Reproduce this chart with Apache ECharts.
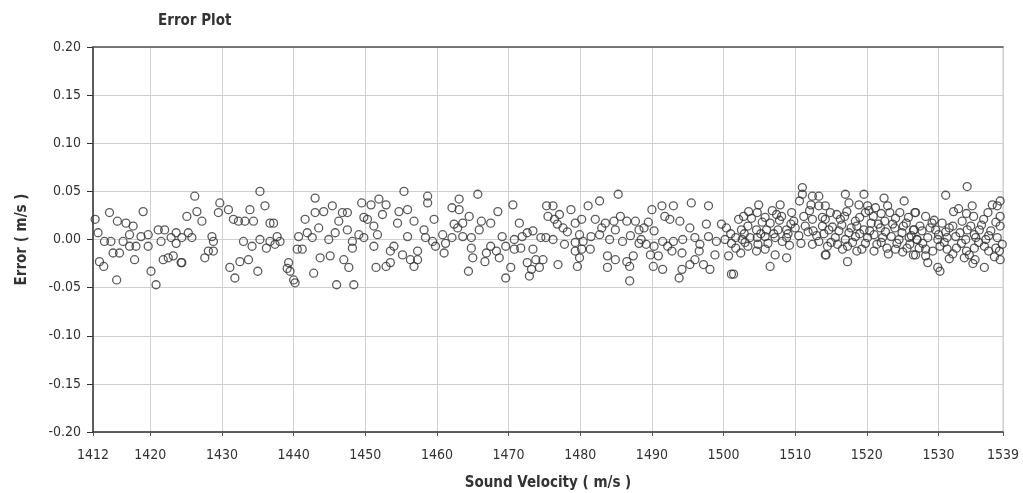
<!DOCTYPE html>
<html>
<head>
<meta charset="utf-8">
<script src="https://cdn.jsdelivr.net/npm/echarts@6/dist/echarts.min.js"></script>
<style>html,body{margin:0;padding:0;background:#fff}#c{width:1023px;height:493px}</style>
</head>
<body>
<div id="c"></div>
<script>
var xTicks = [1412,1420,1430,1440,1450,1460,1470,1480,1490,1500,1510,1520,1530,1539];

var velocity = [
1412.3,1412.7,1414.3,1415.4,1416.6,1417.6,1419.0,1413.6,1414.5,1416.2,1417.1,1417.1,1418.0,1418.7,1419.7,1419.7,1414.8,1415.7,1412.9,1413.5,1417.8,1415.3,1420.1,1420.8,1421.1,1422.0,1421.5,1422.9,1423.6,1423.6,1421.8,1422.5,1423.2,1424.3,
1426.2,1435.3,1425.1,1426.5,1427.2,1429.7,1429.5,1430.9,1431.6,1432.3,1433.2,1433.9,1434.4,1436.0,1436.7,1424.4,1425.3,1425.8,1428.6,1428.8,1428.1,1427.6,1428.8,1433.0,1434.2,1435.3,1436.7,1436.2,1433.7,1432.5,1431.1,1431.8,1435.0,1424.4,
1437.2,1437.7,1437.4,1438.1,1443.0,1441.6,1443.0,1444.2,1445.4,1446.8,1447.5,1446.3,1447.5,1440.7,1441.9,1442.6,1443.5,1444.9,1445.8,1440.5,1441.2,1443.7,1445.1,1448.2,1448.2,1449.1,1449.8,1447.0,1447.7,1439.3,1439.1,1439.5,1440.0,1440.2,1442.8,1446.0,1448.4,1449.5,1449.8,
1455.4,1458.7,1458.7,1450.8,1451.9,1452.9,1452.4,1454.7,1455.9,1454.5,1456.8,1459.6,1462.1,1462.4,1450.3,1451.2,1451.7,1451.2,1455.9,1458.2,1458.4,1459.4,1459.8,1460.8,1461.2,1462.1,1461.0,1454.0,1453.5,1455.2,1456.3,1457.3,1457.3,1456.8,1451.5,1452.9,1453.5,
1465.7,1463.1,1463.1,1464.5,1463.6,1462.9,1466.2,1467.5,1468.5,1470.6,1471.5,1473.4,1475.3,1475.5,1463.6,1464.8,1465.9,1469.1,1470.8,1471.9,1472.6,1474.5,1475.2,1464.8,1465.0,1466.9,1466.7,1467.5,1468.3,1468.7,1469.6,1470.8,1471.7,1473.4,1472.6,1473.2,1473.8,1474.8,1474.3,1472.9,1464.4,1470.3,1469.6,
1485.3,1482.7,1481.1,1478.7,1476.2,1477.1,1476.4,1477.6,1479.3,1480.2,1482.1,1483.5,1484.7,1485.6,1486.5,1487.7,1488.2,1484.9,1476.2,1477.8,1479.9,1480.4,1481.5,1482.7,1484.1,1485.9,1488.2,1479.3,1479.3,1480.2,1481.4,1479.9,1479.6,1476.9,1483.8,1484.9,1483.8,1486.5,1487.4,1486.9,1486.9,
1490.0,1491.4,1493.0,1495.5,1497.9,1491.8,1492.5,1493.9,1495.3,1497.6,1499.7,1500.4,1488.9,1490.3,1488.5,1489.2,1490.3,1491.5,1492.2,1493.0,1494.3,1496.0,1496.7,1497.9,1499.0,1500.2,1501.1,1489.8,1490.9,1492.8,1494.2,1496.6,1498.8,1500.7,1490.2,1491.5,1494.2,1495.3,1496.0,1497.2,1498.1,1493.8,1501.1,
1511.0,1511.0,1512.4,1513.3,1512.2,1513.3,1507.9,1504.9,1503.5,1504.7,1502.1,1502.8,1505.8,1506.5,1507.4,1508.1,1509.5,1509.8,1511.2,1512.4,1513.8,1513.8,1502.5,1503.4,1504.6,1506.0,1507.6,1508.8,1510.0,1511.4,1512.5,1501.7,1502.6,1503.7,1504.7,1505.8,1507.2,1508.8,1501.7,1502.4,1503.4,1504.8,1504.6,1505.8,1508.2,1507.2,1508.8,1506.5,1501.4,1512.4,1513.3,1514.2,
1517.0,1519.6,1522.4,1525.2,1517.5,1518.9,1520.1,1521.2,1522.9,1514.2,1514.9,1515.8,1517.2,1519.8,1520.9,1523.2,1524.6,1526.7,1514.2,1516.3,1518.4,1518.6,1520.6,1522.5,1523.6,1525.5,1514.7,1516.1,1517.5,1519.6,1521.9,1524.9,1526.5,1515.6,1517.0,1518.4,1520.1,1521.0,1522.2,1523.4,1524.5,1525.9,1527.0,1514.5,1515.9,1517.3,1518.6,1519.3,1521.4,1522.8,1524.0,1525.6,1526.5,1514.3,1517.3,
1534.0,1531.0,1534.7,1537.5,1538.6,1538.2,1532.1,1532.8,1526.8,1528.2,1534.9,1536.3,1538.6,1529.1,1530.5,1533.3,1526.6,1527.7,1529.6,1531.5,1534.5,1535.7,1537.3,1538.6,1527.0,1528.5,1529.9,1531.2,1532.4,1533.8,1535.2,1536.6,1538.2,1527.3,1528.2,1530.2,1531.2,1532.5,1533.9,1535.0,1536.4,1538.0,1526.8,1528.2,1528.5,1529.9,1530.2,1533.6,1535.1,1536.4,1538.5,1538.6
];

var error = [
0.021,0.007,0.028,0.019,0.017,0.014,0.029,-0.002,-0.002,-0.002,0.005,-0.007,-0.007,0.003,0.005,-0.007,-0.014,-0.014,-0.023,-0.028,-0.021,-0.042,-0.033,-0.047,0.010,0.010,-0.002,0.002,0.007,-0.004,-0.021,-0.019,-0.017,-0.024,
0.045,0.050,0.024,0.029,0.019,0.038,0.028,0.031,0.021,0.019,0.019,0.031,0.019,0.035,0.017,0.002,0.007,0.002,0.003,-0.002,-0.012,-0.019,-0.012,-0.002,-0.007,0.000,-0.002,-0.009,-0.021,-0.023,-0.029,-0.040,-0.033,-0.024,
0.017,0.003,-0.005,-0.002,0.043,0.021,0.028,0.029,0.035,0.028,0.028,0.019,0.010,0.003,0.007,0.002,0.012,0.000,0.007,-0.010,-0.010,-0.019,-0.017,-0.002,-0.009,0.005,0.002,-0.021,-0.029,-0.024,-0.030,-0.033,-0.042,-0.045,-0.035,-0.047,-0.047,0.038,0.023,
0.050,0.045,0.038,0.036,0.042,0.036,0.026,0.029,0.031,0.017,0.019,0.021,0.033,0.016,0.021,0.014,0.005,-0.007,0.003,0.010,0.002,-0.002,-0.007,0.005,-0.004,0.002,-0.014,-0.007,-0.012,-0.016,-0.021,-0.012,-0.021,-0.028,-0.029,-0.028,-0.024,
0.047,0.042,0.031,0.024,0.017,0.012,0.019,0.017,0.029,0.036,0.017,0.009,0.035,0.024,0.003,0.002,0.010,0.003,0.000,0.003,0.007,0.002,0.002,-0.009,-0.019,-0.014,-0.023,-0.007,-0.012,-0.019,-0.007,-0.010,-0.009,-0.010,-0.024,-0.031,-0.021,-0.021,-0.029,-0.038,-0.033,-0.029,-0.040,
0.047,0.040,0.035,0.031,0.035,0.026,0.021,0.012,0.017,0.021,0.021,0.017,0.019,0.024,0.019,0.019,0.010,0.010,0.000,-0.005,0.005,-0.002,0.003,0.005,0.000,-0.002,-0.004,-0.003,-0.012,-0.010,-0.010,-0.019,-0.028,-0.026,-0.017,-0.021,-0.029,-0.023,-0.017,-0.028,-0.043,
0.031,0.035,0.035,0.038,0.035,0.024,0.021,0.019,0.012,0.016,0.016,0.012,0.012,0.009,0.000,-0.005,-0.007,-0.002,-0.007,-0.002,0.000,0.002,-0.005,0.003,-0.002,0.000,-0.004,-0.016,-0.017,-0.012,-0.014,-0.012,-0.016,-0.017,-0.028,-0.031,-0.031,-0.026,-0.021,-0.026,-0.031,-0.040,-0.036,
0.054,0.047,0.045,0.045,0.036,0.035,0.036,0.036,0.029,0.028,0.021,0.024,0.023,0.017,0.026,0.024,0.028,0.019,0.024,0.021,0.023,0.014,0.010,0.014,0.010,0.010,0.010,0.010,0.012,0.014,0.009,0.002,0.000,0.002,0.002,0.003,0.002,0.002,-0.009,-0.014,-0.007,-0.005,-0.012,-0.010,-0.002,-0.016,-0.019,-0.028,-0.036,-0.005,-0.002,-0.016,
0.047,0.047,0.043,0.040,0.038,0.036,0.035,0.033,0.035,0.035,0.028,0.026,0.029,0.028,0.024,0.028,0.028,0.028,0.021,0.021,0.019,0.014,0.017,0.019,0.016,0.017,0.010,0.009,0.007,0.010,0.012,0.007,0.010,0.002,0.000,0.003,0.002,0.005,0.002,0.003,0.000,0.002,0.000,-0.007,-0.005,-0.007,-0.012,-0.010,-0.005,-0.009,-0.010,-0.009,-0.016,-0.016,-0.023,
0.055,0.046,0.035,0.036,0.040,0.035,0.029,0.032,0.028,0.024,0.024,0.021,0.024,0.017,0.017,0.019,0.010,0.009,0.010,0.012,0.014,0.010,0.009,0.014,0.000,0.002,0.000,0.002,0.003,0.000,0.002,0.000,0.002,-0.009,-0.010,-0.007,-0.010,-0.009,-0.012,-0.009,-0.007,-0.009,-0.016,-0.017,-0.024,-0.029,-0.033,-0.019,-0.021,-0.029,-0.012,-0.021
];

// extra overlapping points estimated in the dense bands
var velocityDense = [
1476.8,1478.2,1483.0,1487.0,1489.5,
1501.0,1503.0,1505.2,1506.2,1507.0,1509.0,1510.5,1511.8,1513.0,1514.0,1509.2,1510.8,1512.0,1510.6,1509.4,1507.8,1506.8,1505.4,1503.9,1502.9,
1515.2,1516.5,1517.8,1519.0,1520.4,1521.6,1522.6,1523.9,1525.1,1526.2,1515.0,1516.6,1518.0,1519.8,1521.0,1522.0,1523.0,1524.2,1525.0,1526.0,1516.9,1519.0,1520.3,1522.0,1524.0,1525.8,
1527.4,1528.8,1530.0,1531.0,1532.0,1533.0,1534.0,1535.0,1536.0,1537.0,1538.0,1527.8,1529.2,1530.8,1532.0,1533.2,1534.3,1535.6,1537.0,1538.9,1531.5,1534.8,1537.8,1529.4,1533.9,1536.9
];
var errorDense = [
0.016,0.008,0.012,0.004,0.018,
0.006,-0.003,0.006,-0.004,0.006,0.006,0.004,0.008,0.004,0.006,-0.006,-0.004,0.030,0.040,0.016,0.020,0.030,0.018,0.022,0.006,
0.013,0.015,0.012,0.006,0.009,0.016,0.008,0.012,0.014,0.004,-0.003,-0.010,-0.003,-0.004,-0.012,-0.003,-0.015,-0.004,-0.013,-0.005,0.024,0.023,0.030,0.027,0.022,0.023,
0.014,0.012,0.005,0.008,0.014,0.007,0.010,0.005,0.015,0.004,0.018,-0.004,-0.012,-0.003,-0.015,-0.004,-0.016,-0.003,-0.012,-0.005,-0.020,-0.025,-0.018,0.020,0.027,0.028
];

var points = velocity.map(function (v, i) { return [v, error[i]]; })
  .concat(velocityDense.map(function (v, i) { return [v, errorDense[i]]; }));

var font = "'Liberation Sans Narrow','DejaVu Sans Condensed','Liberation Sans',sans-serif";
var chart = echarts.init(document.getElementById('c'));
chart.setOption({
  animation: false,
  backgroundColor: '#ffffff',
  title: {
    text: 'Error Plot', left: 153, top: 9,
    textStyle: { fontFamily: font, fontSize: 15, fontWeight: 'bold', color: '#333' }
  },
  grid: { left: 93, right: 20, top: 47, bottom: 61, outerBoundsMode: 'none', containLabel: false,
    show: true, borderColor: '#c8c8c8', borderWidth: 1 },
  xAxis: [{
    type: 'value', min: 1412, max: 1539,
    name: 'Sound Velocity ( m/s )', nameLocation: 'middle', nameGap: 44,
    nameTextStyle: { fontFamily: font, fontSize: 15, fontWeight: 'bold', color: '#333' },
    axisLine: { show: true, onZero: false, lineStyle: { color: '#333', width: 1.5 } },
    axisTick: { show: true, length: 4, customValues: xTicks, lineStyle: { color: '#555' } },
    axisLabel: { customValues: xTicks, fontFamily: font, fontSize: 14, color: '#333', margin: 16,
      formatter: function (v) { return String(Math.round(v)); } },
    splitLine: { show: true, lineStyle: { color: '#d0d0d0', width: 1 } }
  }, {
    type: 'value', position: 'top', min: 1412, max: 1539,
    axisLine: { show: true, onZero: false, lineStyle: { color: '#555', width: 1.5 } },
    axisTick: { show: false }, axisLabel: { show: false }, splitLine: { show: false }
  }],
  yAxis: {
    type: 'value', min: -0.2, max: 0.2, interval: 0.05,
    name: 'Error ( m/s )', nameLocation: 'middle', nameGap: 63, nameRotate: 90,
    nameTextStyle: { fontFamily: font, fontSize: 15, fontWeight: 'bold', color: '#333' },
    axisLine: { show: true, onZero: false, lineStyle: { color: '#333', width: 1.5 } },
    axisTick: { show: true, length: 6, lineStyle: { color: '#333' } },
    axisLabel: { fontFamily: font, fontSize: 14, color: '#333', margin: 12,
      formatter: function (v) { return v.toFixed(2); } },
    splitLine: { show: true, lineStyle: { color: '#d0d0d0', width: 1 } }
  },
  series: [{
    type: 'scatter', data: points, symbol: 'circle', symbolSize: 8,
    itemStyle: { color: 'rgba(255,255,255,0)', borderColor: '#333', borderWidth: 1.3 }
  }]
});
</script>
</body>
</html>
